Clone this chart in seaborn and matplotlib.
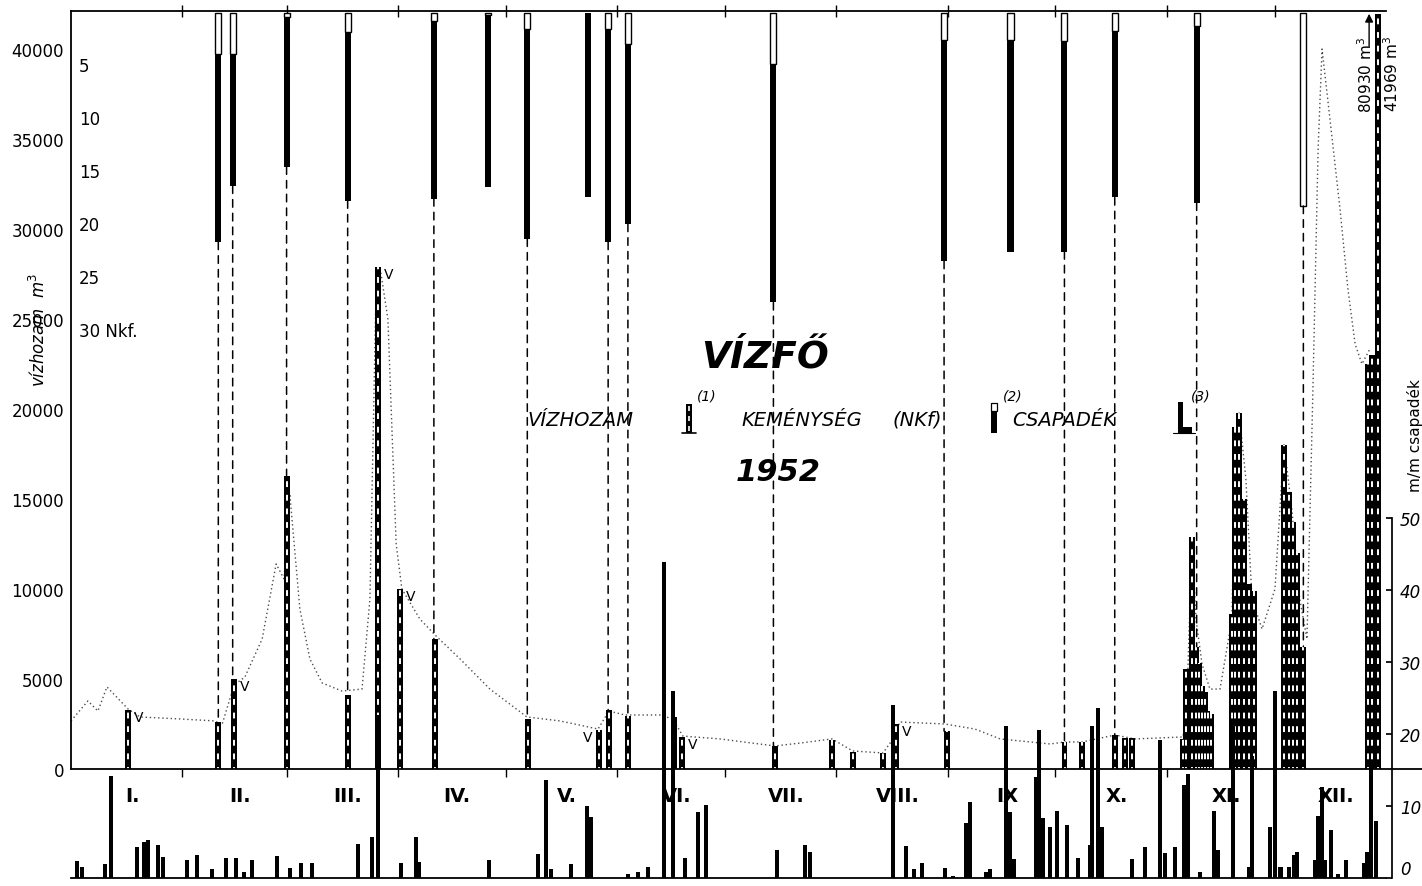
import numpy as np
import pandas as pd
import matplotlib
matplotlib.use("Agg")
import matplotlib.pyplot as plt
import matplotlib.transforms as mtrans
from matplotlib.patches import ConnectionPatch, Rectangle
import seaborn as sns

# 1952 (szokoev), nap = 0 .. 366 jan. 1-tol
month_names = ["I.", "II.", "III.", "IV.", "V.", "VI.", "VII.", "VIII.", "IX", "X.", "XI.", "XII."]
month_days = [31, 29, 31, 30, 31, 30, 31, 31, 30, 31, 30, 31]

# napi vizhozam gorbe (m3)
flow_day = [0, 4.7, 7.5, 10.0, 15.9, 19.2, 30.3, 40.1, 42.0, 45.4, 48.4, 53.2, 57.1, 59.3,
            60.9, 63.7, 66.5, 69.9, 75.4, 81.0, 83.2, 84.9, 86.0, 88.2, 90.5, 92.1, 97.1,
            101.6, 108.3, 116.6, 126.9, 136.1, 146.7, 149.7, 154.2, 163.9, 167.5, 170.3,
            180.6, 195.9, 202.9, 211.8, 217.6, 226.0, 228.8, 230.7, 243.2, 251.6, 258.6,
            272.5, 276.6, 281.4, 290.6, 296.1, 309.5, 310.6, 312.0, 313.1, 314.8, 317.0,
            319.8, 323.1, 324.2, 325.1, 327.0, 328.7, 331.5, 335.1, 337.6, 339.8, 342.0,
            344.0, 345.6, 347.1, 348.2, 350.4, 353.2, 355.4, 357.4, 359.3, 361.5]
flow_q = [2670, 3780, 3220, 4560, 3330, 2890, 2780, 2670, 2440, 4670, 5110, 7220, 11390, 10560,
          15280, 8890, 6110, 4780, 4330, 4440, 9440, 26670, 27890, 25000, 12500, 10000, 8330,
          7390, 6110, 4440, 2890, 2670, 2220, 3220, 3000, 3000, 2780, 1830,
          1670, 1280, 1440, 1670, 1000, 890, 1670, 2610, 2500, 2220, 1670,
          1390, 1500, 1500, 1890, 1670, 1780, 3890, 12780, 8330, 5830, 4440,
          4440, 8330, 18330, 19830, 16110, 9440, 7780, 10000, 18060, 14440, 9440,
          7220, 20560, 34440, 40000, 36110, 31110, 26670, 23610, 22500, 23330]

# mert vizhozam (oszlopok, m3)
meas_day = [15.9, 40.9, 45.4, 60.1, 77.1, 85.4, 91.6, 101.3, 127.2, 147.0, 149.7, 155.0,
            167.8, 170.1, 195.9, 211.8, 217.6, 226.0, 229.6, 243.8, 276.6, 281.4, 290.6,
            293.4, 295.3, 309.5, 310.3, 312.0, 313.1, 313.9, 314.8, 315.6, 316.4, 317.3,
            323.1, 324.0, 325.1, 326.5, 327.9, 329.3, 337.6, 339.0, 340.1, 341.2, 342.9,
            361.0, 362.1, 363.8]
meas_q = [3300, 2600, 5000, 16300, 4100, 27900, 10000, 7200, 2750, 2170, 3250, 2950,
          2900, 1800, 1300, 1600, 920, 900, 2500, 2100, 1500, 1500, 1900,
          1700, 1700, 1670, 5560, 12900, 6800, 5900, 4600, 4300, 3200, 3050,
          8600, 19000, 19800, 15000, 10300, 9900, 18000, 15400, 13700, 12000, 6800,
          22500, 23000, 41969]

# "V" jelu meresek
v_day = [15.9, 45.4, 85.4, 91.6, 170.1, 229.6]
v_left_day = [147.0]

# kemenyseg (Nkf): nyitott felso resz es teljes ertek
hard_day = [41, 45, 60, 77, 101, 116, 127, 144, 149.5, 155, 195.5, 243, 261.5, 276.5,
            290.5, 313.3, 343]
hard_open = [3.9, 3.9, 0.4, 1.8, 0.8, 0.2, 1.5, 0, 1.5, 2.9, 4.8, 2.5, 2.5, 2.6, 1.7, 1.2, 18.2]
hard_total = [21.6, 16.3, 14.5, 17.7, 17.5, 16.4, 21.3, 17.4, 21.6, 19.9, 27.3, 23.4, 22.5,
              22.5, 17.4, 17.9, 18.2]
hard_linked = [True, True, True, True, True, False, True, False, True, True, True, True,
               False, True, True, True, True]
nkf_ticks = [5, 10, 15, 20, 25, 30]

# csapadek (mm)
rain_day = [1.7, 3.1, 9.5, 11.1, 18.4, 20.3, 21.4, 24.2, 25.6, 32.3, 35.1, 39.2, 43.1, 45.9,
            48.1, 50.4, 57.3, 61.0, 64.0, 67.1, 79.9, 83.8, 85.4, 91.8, 96.0, 96.9, 116.3,
            130.0, 132.2, 133.6, 139.2, 143.6, 144.7, 155.0, 157.8, 160.6, 165.0, 167.5,
            170.9, 174.5, 176.7, 196.5, 204.3, 205.7, 228.8, 232.4, 234.6, 236.8, 243.2,
            245.5, 249.1, 250.2, 254.7, 255.8, 260.2, 261.3, 262.5, 268.6, 269.4, 270.5,
            272.5, 274.4, 277.2, 280.3, 283.6, 284.2, 285.8, 286.9, 295.3, 298.9, 303.1,
            304.5, 307.3, 309.8, 310.9, 314.2, 318.1, 319.2, 323.4, 327.9, 328.7, 333.7,
            335.1, 336.6, 339.0, 340.4, 341.2, 346.2, 347.1, 348.2, 349.0, 350.7, 352.6,
            354.9, 359.9, 360.7, 361.8, 363.2]
rain_mm = [2.4, 1.5, 2.0, 14.2, 4.3, 5.0, 5.3, 4.6, 2.9, 2.5, 3.2, 1.3, 2.8, 2.8,
           0.8, 2.5, 3.1, 1.4, 2.1, 2.1, 4.7, 5.7, 22.6, 2.1, 5.7, 2.2, 2.5,
           3.3, 13.6, 1.3, 2.0, 10.0, 8.5, 0.6, 0.8, 1.5, 43.9, 26.0,
           2.8, 9.2, 10.1, 3.9, 4.6, 3.6, 24.0, 4.5, 1.3, 2.1, 1.4,
           0.3, 7.7, 10.5, 0.8, 1.2, 21.1, 9.2, 2.6, 14.0, 20.6, 8.3,
           7.1, 9.3, 7.4, 2.8, 4.6, 21.1, 23.6, 7.1, 2.6, 4.3, 19.2,
           3.5, 4.3, 12.9, 14.4, 0.8, 9.3, 3.9, 22.0, 1.5, 17.0, 7.1,
           26.0, 1.5, 1.5, 3.2, 3.6, 2.5, 8.6, 12.6, 2.5, 6.7, 0.6,
           2.5, 2.1, 3.6, 16.0, 7.9]
rain_ticks = [0, 10, 20, 30, 40, 50]

flow_df = pd.DataFrame({"nap": flow_day, "vizhozam": flow_q})
meas_df = pd.DataFrame({"nap": meas_day, "vizhozam": meas_q})
hard_df = pd.DataFrame({"nap": hard_day, "nyitott": hard_open, "osszes": hard_total,
                        "kapcsolt": hard_linked})
rain_df = pd.DataFrame({"nap": rain_day, "mm": rain_mm})

sns.set_theme(style="white")
plt.rcParams["font.family"] = ["DejaVu Sans"]
plt.rcParams.update({"text.color": "black", "axes.labelcolor": "black",
                     "xtick.color": "black", "ytick.color": "black",
                     "patch.force_edgecolor": False})

W, H = 1422, 887
fig = plt.figure(figsize=(W / 100, H / 100), dpi=100)
fig.patch.set_facecolor("white")
ax = fig.add_axes([71 / W, 8 / H, 1315 / W, 867 / H])
ax.set_facecolor("white")

n_days = sum(month_days)
bounds = np.cumsum([0] + month_days)
mids = (bounds[:-1] + bounds[1:]) / 2

# skalak: vizhozam (bal), kemenyseg (felulrol), csapadek (jobb)
ax.set_xlim(0, n_days)
ax.set_ylim(-6056, 42111)
ax_h = ax.twinx()
ax_h.set_ylim(81.6, -0.19)
ax_p = ax.twinx()
ax_p.set_ylim(0, 120.4)

# napi vizhozam pontozott gorbe
sns.lineplot(data=flow_df, x="nap", y="vizhozam", ax=ax, color="0.3", lw=1.0,
             linestyle=(0, (1, 2)), zorder=2)

# mert vizhozam oszlopok (fekete-feher sraffozas)
ax.bar(meas_df["nap"], meas_df["vizhozam"], width=1.5, color="black", lw=0, zorder=3)
ax.vlines(meas_df["nap"], 0, meas_df["vizhozam"], colors="white", lw=1.4,
          linestyles=[(2, (3, 4))], zorder=4)

for d in v_day:
    q = meas_df.loc[(meas_df["nap"] - d).abs().idxmin(), "vizhozam"]
    ax.text(d + 1.6, q, "V", fontsize=10, ha="left", va="top", zorder=5)
for d in v_left_day:
    q = meas_df.loc[(meas_df["nap"] - d).abs().idxmin(), "vizhozam"]
    ax.text(d - 1.8, q, "V", fontsize=10, ha="right", va="top", zorder=5)

# alapvonal es honap-hatarok
base_tr = mtrans.blended_transform_factory(ax.transAxes, ax.transData)
ax.plot([0, 1.03], [0, 0], color="black", lw=1.3, transform=base_tr, clip_on=False, zorder=6)
ax.vlines(bounds[1:-1], -420, 0, colors="black", lw=1.0, zorder=6)
for m, name in zip(mids, month_names):
    ax.text(m + 1.5, -1500, name, fontsize=14, fontweight="heavy", ha="center", va="center",
            zorder=1)

# kemenyseg oszlopok felulrol
ax_h.bar(hard_df["nap"], hard_df["osszes"], width=1.7, color="black", lw=0, zorder=3)
op = hard_df[hard_df["nyitott"] > 0]
ax_h.bar(op["nap"], op["nyitott"], width=1.7, facecolor="white", edgecolor="black",
         lw=1.0, zorder=4)
for d, tot, link in zip(hard_df["nap"], hard_df["osszes"], hard_df["kapcsolt"]):
    if not link:
        continue
    i = (meas_df["nap"] - d).abs().idxmin()
    con = ConnectionPatch(xyA=(d, tot), coordsA=ax_h.transData,
                          xyB=(d, meas_df.loc[i, "vizhozam"]), coordsB=ax.transData,
                          color="black", lw=1.1, linestyle=(0, (5, 4)), zorder=2)
    fig.add_artist(con)

nkf_tr = mtrans.blended_transform_factory(ax_h.transAxes, ax_h.transData)
for v in nkf_ticks:
    lab = f"{v} Nkf." if v == nkf_ticks[-1] else str(v)
    ax_h.text(0.006, v, lab, fontsize=12, ha="left", va="center", transform=nkf_tr)

# csapadek oszlopok
ax_p.bar(rain_df["nap"], rain_df["mm"], width=1.2, color="black", lw=0, zorder=3)

# tengelyek
for a in (ax, ax_h, ax_p):
    for s in a.spines.values():
        s.set_visible(False)
        s.set_color("black")
ax.spines["left"].set_visible(True)
ax.spines["left"].set_bounds(0, 42111)
ax.spines["top"].set_visible(True)
ax.spines["bottom"].set_visible(True)
for s in ("left", "top", "bottom"):
    ax.spines[s].set_linewidth(1.3)

ax.set_yticks(range(0, 40001, 5000))
ax.set_yticklabels([str(v) for v in range(0, 40001, 5000)], fontsize=12)
ax.tick_params(axis="y", length=0, pad=5)
ax.set_xticks(bounds[1:-1])
ax.tick_params(axis="x", bottom=False, top=True, labelbottom=False, labeltop=False,
               direction="inout", length=8, width=1.0, color="black")
ax.set_xlabel("")
ax.set_ylabel("vízhozam  m$^3$", fontsize=12, fontstyle="italic")
ax.yaxis.set_label_coords(-0.017, 0.633)

ax_h.yaxis.set_visible(False)

ax_p.spines["right"].set_visible(True)
ax_p.spines["right"].set_bounds(0, 50)
ax_p.spines["right"].set_position(("outward", 4))
ax_p.set_yticks(rain_ticks)
ax_p.set_yticklabels([str(v) for v in rain_ticks], fontsize=12, fontstyle="italic")
ax_p.tick_params(axis="y", right=True, direction="in", length=4, pad=6, color="black")
ax_p.get_yticklabels()[0].set_va("bottom")
ax_p.set_ylabel("m/m csapadék", fontsize=11)
ax_p.yaxis.set_label_coords(1.016, 0.512)

# cim es jelmagyarazat
tA = ax.transAxes
ax.text(0.528, 0.602, "VÍZFŐ", fontsize=27, fontweight="bold", fontstyle="italic",
        ha="center", va="center", transform=tA, zorder=7)
ax.text(0.538, 0.469, "1952", fontsize=22, fontweight="bold", fontstyle="italic",
        ha="center", va="center", transform=tA, zorder=7)
ax.text(0.347, 0.529, "VÍZHOZAM", fontsize=14, fontstyle="italic", ha="left",
        va="center", transform=tA, zorder=7)
ax.text(0.5095, 0.529, "KEMÉNYSÉG", fontsize=14, fontstyle="italic", ha="left",
        va="center", transform=tA, zorder=7)
ax.text(0.625, 0.529, "(NKf)", fontsize=14, fontstyle="italic", ha="left",
        va="center", transform=tA, zorder=7)
ax.text(0.7156, 0.529, "CSAPADÉK", fontsize=14, fontstyle="italic", ha="left",
        va="center", transform=tA, zorder=7)
for x, lab in ((0.476, "(1)"), (0.709, "(2)"), (0.852, "(3)")):
    ax.text(x, 0.556, lab, fontsize=10, fontstyle="italic", ha="left", va="center",
            transform=tA, zorder=7)
# jel (1): sraffozott oszlop
ax.add_patch(Rectangle((0.4675, 0.513), 0.0045, 0.034, facecolor="black", lw=0,
                       transform=tA, zorder=7))
ax.plot([0.46975, 0.46975], [0.516, 0.544], color="white", lw=1.2,
        linestyle=(0, (3, 3)), transform=tA, zorder=8)
ax.plot([0.4645, 0.4755], [0.513, 0.513], color="black", lw=1.2, transform=tA, zorder=8)
# jel (2): kemenyseg oszlop
ax.add_patch(Rectangle((0.6995, 0.513), 0.0045, 0.026, facecolor="black", lw=0,
                       transform=tA, zorder=7))
ax.add_patch(Rectangle((0.6995, 0.539), 0.0045, 0.009, facecolor="white", edgecolor="black",
                       lw=0.9, transform=tA, zorder=7))
# jel (3): csapadek
ax.add_patch(Rectangle((0.8415, 0.513), 0.0045, 0.036, facecolor="black", lw=0,
                       transform=tA, zorder=7))
ax.add_patch(Rectangle((0.8415, 0.513), 0.011, 0.007, facecolor="black", lw=0,
                       transform=tA, zorder=7))
ax.plot([0.838, 0.855], [0.513, 0.513], color="black", lw=0.8, transform=tA, zorder=8)

# nagy ertekek a jobb szelen
big_i = meas_df["vizhozam"].idxmax()
big_day = meas_df.loc[big_i, "nap"]
ax.text(big_day - 3.5, 38600, "80930 m$^3$", rotation=90, fontsize=11, ha="center",
        va="center", zorder=7)
ax.annotate("", xy=(big_day - 2.5, 42111), xytext=(big_day - 2.5, 40000),
            arrowprops=dict(arrowstyle="-|>", color="black", lw=1.0), zorder=7,
            annotation_clip=False)
ax.text(big_day + 3.9, 38700, str(meas_df.loc[big_i, "vizhozam"]) + " m$^3$",
        rotation=90, fontsize=11, ha="center", va="center", zorder=7, clip_on=False)

fig.savefig("out.png", dpi=100, facecolor="white")
